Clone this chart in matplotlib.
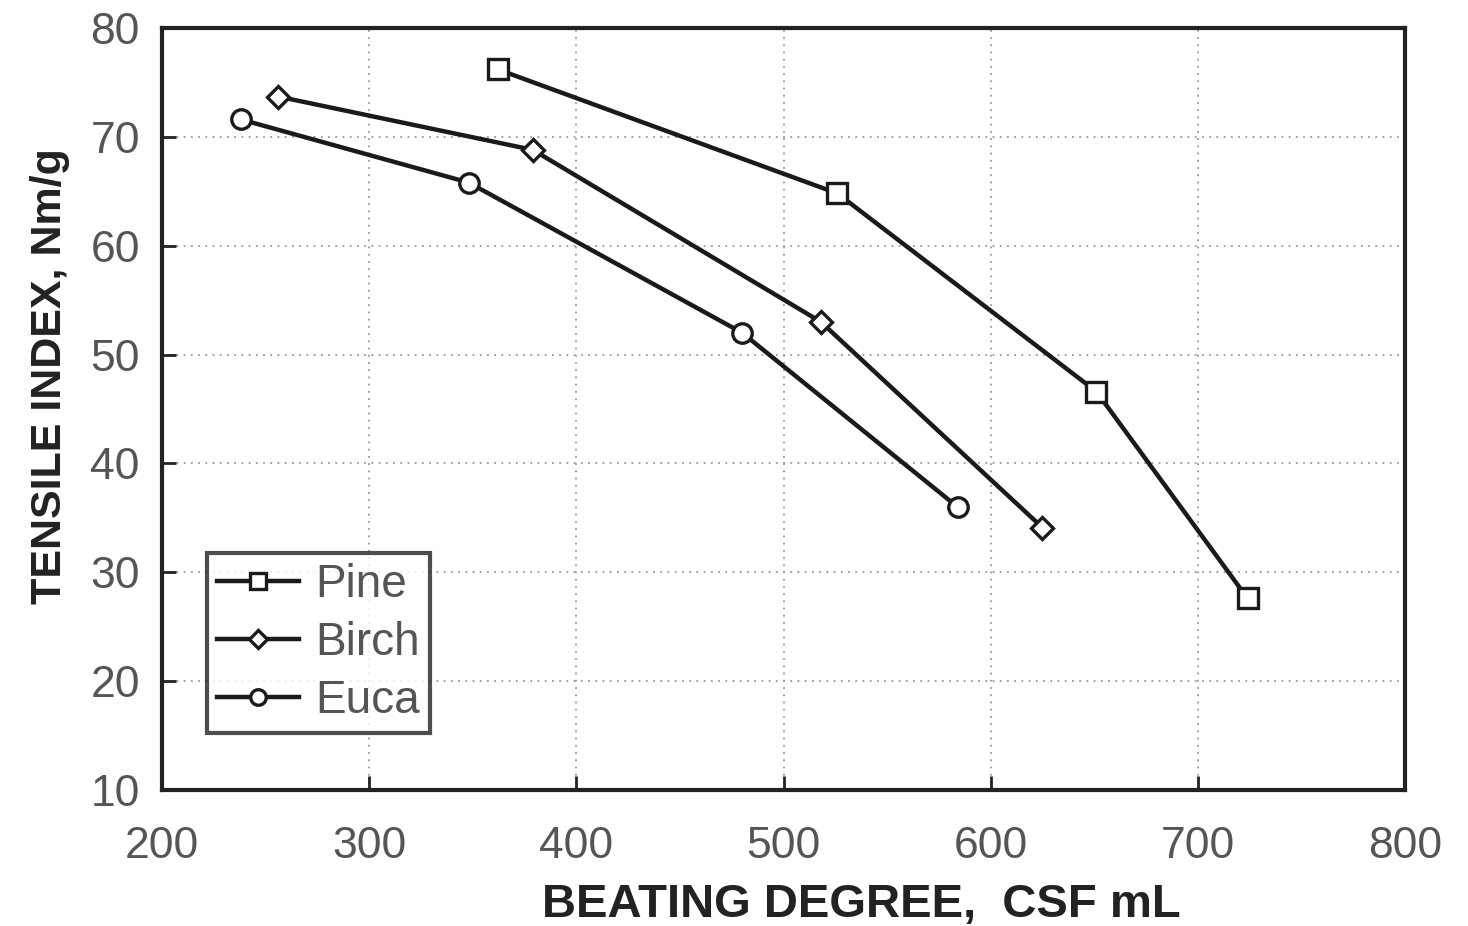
import matplotlib
matplotlib.use("Agg")
import matplotlib.pyplot as plt
from matplotlib import font_manager

names = {f.name for f in font_manager.fontManager.ttflist}
narrow = 'Liberation Sans Narrow' if 'Liberation Sans Narrow' in names else 'Liberation Sans'

# Data
pine_x = [362, 526, 651, 724]
pine_y = [76.2, 64.8, 46.6, 27.6]
birch_x = [256, 379, 518, 625]
birch_y = [73.7, 68.8, 53.0, 34.1]
euca_x = [238, 348, 480, 584]
euca_y = [71.6, 65.8, 52.0, 36.0]
series_names = ['Pine', 'Birch', 'Euca']
xticks = [200, 300, 400, 500, 600, 700, 800]
yticks = [10, 20, 30, 40, 50, 60, 70, 80]

plt.rcParams['font.family'] = ['Liberation Sans', 'DejaVu Sans']

fig = plt.figure(figsize=(14.68, 9.26), dpi=100)
ax = fig.add_axes([0.1104, 0.1469, 0.8467, 0.8229])

lw = 3.2
ax.plot(pine_x, pine_y, color='#1a1a1a', lw=lw, marker='s', ms=15,
        mfc='white', mec='#1a1a1a', mew=2.4, label=series_names[0], zorder=3)
ax.plot(birch_x, birch_y, color='#1a1a1a', lw=lw, marker='D', ms=11,
        mfc='white', mec='#1a1a1a', mew=2.4, label=series_names[1], zorder=3)
ax.plot(euca_x, euca_y, color='#1a1a1a', lw=lw, marker='o', ms=14,
        mfc='white', mec='#1a1a1a', mew=2.4, label=series_names[2], zorder=3)

ax.set_xlim(200, 800)
ax.set_ylim(10, 80)
ax.set_xticks(xticks)
ax.set_yticks(yticks)
ax.grid(True, linestyle=(0, (1, 3)), color='#999999', linewidth=1.3)
ax.set_axisbelow(True)

ax.tick_params(direction='in', length=10, width=2, colors='#222222',
               labelcolor='#555555', labelsize=32)
ax.tick_params(axis='x', pad=26)
ax.tick_params(axis='y', pad=16)

for s in ax.spines.values():
    s.set_linewidth(3)
    s.set_color('#222222')

ax.set_xlabel('BEATING DEGREE,  CSF mL', fontsize=34, fontweight='bold',
              color='#222222')
ax.xaxis.set_label_coords(0.563, -0.122)
ax.set_ylabel('TENSILE INDEX, Nm/g', fontsize=31, fontweight='bold',
              color='#222222', family=[narrow, 'Liberation Sans'])
ax.yaxis.set_label_coords(-0.074, 0.543)

leg = ax.legend(loc='lower left', bbox_to_anchor=(0.036, 0.075), fontsize=33,
                frameon=True, fancybox=False, handlelength=1.8,
                handletextpad=0.35, borderpad=0.22, labelspacing=0.3,
                borderaxespad=0, markerscale=0.8)
leg.get_frame().set_edgecolor('#222222')
leg.get_frame().set_linewidth(3)
for t in leg.get_texts():
    t.set_color('#555555')

fig.savefig('out.png', dpi=100, facecolor='white')
